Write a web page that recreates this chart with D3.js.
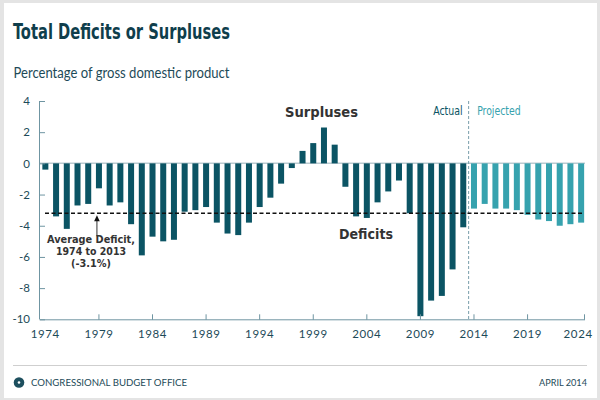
<!DOCTYPE html>
<html><head><meta charset="utf-8">
<script src="https://cdn.jsdelivr.net/npm/d3@7"></script>
<style>
html,body{margin:0;padding:0;background:#e4e4e4;}
svg{display:block;}
</style></head>
<body>
<svg id="chart" width="600" height="400"></svg>
<script>
const years = d3.range(1974, 2025);
const values = [
  -0.4, -3.4, -4.2, -2.7, -2.6, -1.6, -2.7, -2.5, -3.9, -5.9,
  -4.7, -5.0, -4.9, -3.1, -3.0, -2.8, -3.8, -4.5, -4.6, -3.8,
  -2.8, -2.2, -1.3, -0.3, 0.8, 1.3, 2.3, 1.2, -1.5, -3.4,
  -3.5, -2.5, -1.8, -1.1, -3.2, -9.8, -8.8, -8.5, -6.8, -4.1,
  -2.9, -2.6, -2.9, -2.9, -3.0, -3.3, -3.6, -3.7, -4.0, -3.9, -3.8
];
const lastActualYear = 2013;
const averageDeficit = -3.2;
const yTicks = [4, 2, 0, -2, -4, -6, -8, -10];
const xTickYears = [1974, 1979, 1984, 1989, 1994, 1999, 2004, 2009, 2014, 2019, 2024];
const titleText = "Total Deficits or Surpluses";
const subtitleText = "Percentage of gross domestic product";
const annotationLines = ["Average Deficit,", "1974 to 2013", "(-3.1%)"];

const data = years.map((y, i) => ({year: y, value: values[i]}));

const svg = d3.select("#chart");
const C = {actual: "#0b5464", projected: "#36a2ae", axis: "#6f95a2", text: "#1d4a58", title: "#0f3e4c", note: "#333333"};

// white card
svg.append("rect").attr("x", 4).attr("y", 3).attr("width", 593).attr("height", 395).attr("fill", "#fff");

const x = d3.scaleBand().domain(years).range([40, 586.5]).paddingInner(0.44).paddingOuter(0.22);
const y = d3.scaleLinear().domain([-10, 4]).range([319.3, 101]);
const cx = yr => x(yr) + x.bandwidth() / 2;

// title & subtitle
svg.append("text").attr("x", 13).attr("y", 38.5).text(titleText)
  .attr("font-family", "'DejaVu Sans Condensed','Liberation Sans Narrow','DejaVu Sans',sans-serif")
  .attr("font-stretch", "condensed").attr("font-weight", "bold").attr("font-size", 21)
  .attr("fill", C.title).attr("textLength", 217).attr("lengthAdjust", "spacingAndGlyphs");
svg.append("text").attr("x", 13.5).attr("y", 77.5).text(subtitleText)
  .attr("font-family", "Lato, 'Open Sans', sans-serif").attr("font-size", 14.5)
  .attr("fill", C.text).attr("textLength", 216).attr("lengthAdjust", "spacingAndGlyphs");

// zero line
svg.append("line").attr("x1", 40).attr("x2", 585).attr("y1", y(0)).attr("y2", y(0))
  .attr("stroke", "#bccbd1").attr("stroke-width", 1.5);

// bars
svg.append("g").selectAll("rect").data(data).join("rect")
  .attr("x", d => x(d.year)).attr("width", x.bandwidth())
  .attr("y", d => y(Math.max(0, d.value)))
  .attr("height", d => Math.abs(y(d.value) - y(0)))
  .attr("fill", d => d.year <= lastActualYear ? C.actual : C.projected);

// y axis
const yAxis = d3.axisLeft(y).tickValues(yTicks).tickSize(-5).tickPadding(10).tickFormat(d3.format("d"));
const gy = svg.append("g").attr("transform", "translate(40,0)").call(yAxis);
gy.select(".domain").attr("stroke", C.axis).attr("d", `M-0.5,${y(4)}V${y(-10)}`);
gy.selectAll(".tick line").attr("stroke", C.axis);
gy.selectAll(".tick text").attr("fill", C.text).attr("font-family", "Lato, sans-serif").attr("font-size", 11.5)
  .attr("x", -10).text(d => d < 0 ? "-" + Math.abs(d) : d);

// x axis
const gx = svg.append("g").attr("transform", `translate(0,${y(-10)})`);
gx.append("line").attr("x1", 39.5).attr("x2", 585).attr("y1", 0.5).attr("y2", 0.5).attr("stroke", C.axis);
gx.selectAll("line.tk").data(xTickYears.filter(v => v > 1974 && v < 2024)).join("line").attr("class", "tk")
  .attr("x1", d => cx(d)).attr("x2", d => cx(d)).attr("y1", 0.5).attr("y2", -5).attr("stroke", C.axis);
gx.append("line").attr("x1", 584.5).attr("x2", 584.5).attr("y1", 0.5).attr("y2", -5).attr("stroke", C.axis);
gx.selectAll("text").data(xTickYears).join("text")
  .attr("x", d => cx(d) + (d === 2024 ? -3 : 0)).attr("y", 19).attr("text-anchor", "middle")
  .attr("font-family", "Lato, sans-serif").attr("font-size", 11.5).attr("fill", C.text)
  .attr("letter-spacing", 0.6).text(d => d);

// actual/projected divider
const divX = (cx(lastActualYear) + cx(lastActualYear + 1)) / 2;
svg.append("line").attr("x1", divX).attr("x2", divX).attr("y1", 101).attr("y2", y(-10))
  .attr("stroke", "#7a9eab").attr("stroke-dasharray", "3,2");
svg.append("text").attr("x", divX - 6).attr("y", 115).attr("text-anchor", "end").text("Actual")
  .attr("font-family", "'DejaVu Sans Condensed', Lato, sans-serif").attr("font-size", 12).attr("fill", C.actual)
  .attr("textLength", 29.5).attr("lengthAdjust", "spacingAndGlyphs");
svg.append("text").attr("x", divX + 8.5).attr("y", 115).text("Projected")
  .attr("font-family", "'DejaVu Sans Condensed', Lato, sans-serif").attr("font-size", 12).attr("fill", C.projected)
  .attr("textLength", 43.5).attr("lengthAdjust", "spacingAndGlyphs");

// average line
svg.append("line").attr("x1", 45).attr("x2", 582).attr("y1", y(averageDeficit)).attr("y2", y(averageDeficit))
  .attr("stroke", "#111").attr("stroke-width", 1.5).attr("stroke-dasharray", "4,2.5");

// arrow + annotation
const ax = cx(1979) - 2;
svg.append("line").attr("x1", ax).attr("x2", ax).attr("y1", y(averageDeficit) + 7).attr("y2", y(averageDeficit) + 23)
  .attr("stroke", "#333").attr("stroke-width", 1);
svg.append("path").attr("d", `M${ax},${y(averageDeficit) + 2}L${ax - 2.8},${y(averageDeficit) + 8}L${ax + 2.8},${y(averageDeficit) + 8}Z`).attr("fill", "#111");
const noteW = [88, 70, 40];
svg.append("g").selectAll("text").data(annotationLines).join("text")
  .attr("x", 91).attr("y", (d, i) => 243 + i * 12).attr("text-anchor", "middle")
  .attr("font-family", "'DejaVu Sans', sans-serif").attr("font-weight", "bold").attr("font-size", 11)
  .attr("fill", C.note).attr("textLength", (d, i) => noteW[i]).attr("lengthAdjust", "spacingAndGlyphs").text(d => d);

svg.append("text").attr("x", 321.5).attr("y", 117).attr("text-anchor", "middle").text("Surpluses")
  .attr("font-family", "'DejaVu Sans', sans-serif").attr("font-weight", "bold").attr("font-size", 14)
  .attr("fill", C.note).attr("textLength", 73).attr("lengthAdjust", "spacingAndGlyphs");
svg.append("text").attr("x", 366).attr("y", 238.5).attr("text-anchor", "middle").text("Deficits")
  .attr("font-family", "'DejaVu Sans', sans-serif").attr("font-weight", "bold").attr("font-size", 14)
  .attr("fill", C.note).attr("textLength", 54).attr("lengthAdjust", "spacingAndGlyphs");

// footer
svg.append("line").attr("x1", 13).attr("x2", 587).attr("y1", 365.5).attr("y2", 365.5).attr("stroke", "#cfcfcf");
const logo = svg.append("g").attr("transform", "translate(19,382.5)");
logo.append("circle").attr("r", 5.3).attr("fill", "#1d4f5e");
logo.append("circle").attr("r", 1.3).attr("fill", "#fff");
svg.append("text").attr("x", 31).attr("y", 386).text("CONGRESSIONAL BUDGET OFFICE")
  .attr("font-family", "Lato, sans-serif").attr("font-size", 10).attr("fill", C.text)
  .attr("textLength", 156).attr("lengthAdjust", "spacingAndGlyphs");
svg.append("text").attr("x", 587).attr("y", 386).attr("text-anchor", "end").text("APRIL 2014")
  .attr("font-family", "Lato, sans-serif").attr("font-size", 9.5).attr("fill", C.text)
  .attr("textLength", 48).attr("lengthAdjust", "spacingAndGlyphs");
</script>
</body></html>
